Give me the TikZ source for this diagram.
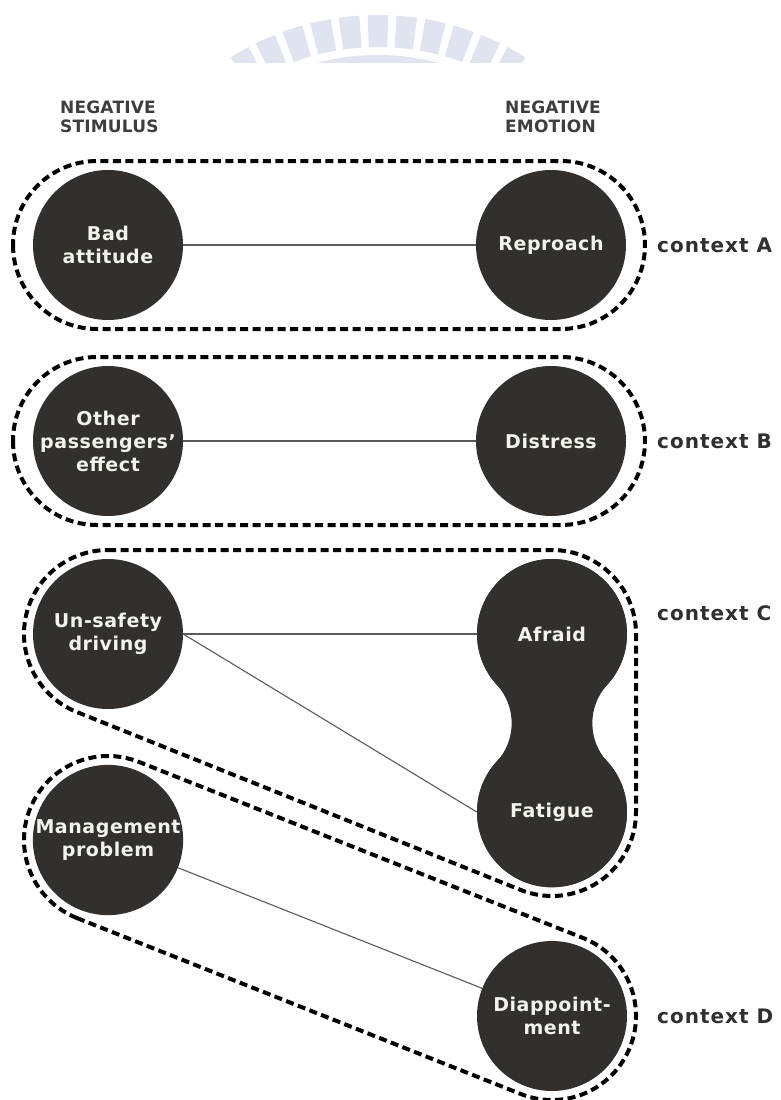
\documentclass[tikz,border=0pt]{standalone}
\usepackage{fontspec}
\setmainfont{DejaVu Sans}
\newfontfamily\ctxfont{DejaVu Sans}[LetterSpace=5]
\newfontfamily\nodefont{DejaVu Sans}[LetterSpace=3]
\newfontfamily\headfont{DejaVu Sans}[LetterSpace=1]
\usetikzlibrary{calc}

\definecolor{ink}{RGB}{51,47,44}
\definecolor{paper}{RGB}{244,242,238}
\definecolor{wire}{RGB}{90,90,90}
\definecolor{crest}{RGB}{224,228,241}
\definecolor{ctxgray}{RGB}{48,48,48}
\definecolor{headgray}{RGB}{62,62,62}

\tikzset{
  blob/.style={circle, fill=ink, minimum size=150pt, inner sep=0pt,
    text=paper, align=center,
    font=\nodefont\bfseries\fontsize{19}{23}\selectfont},
  dashline/.style={draw=black, line width=4pt, dash pattern=on 8pt off 4.5pt},
  wireline/.style={draw=wire, line width=1.1pt},
  ctxlabel/.style={anchor=west, text=ctxgray, inner sep=0pt,
    font=\ctxfont\bfseries\fontsize{20}{23}\selectfont},
  header/.style={anchor=north west, text=headgray, inner sep=0pt, align=left,
    font=\headfont\bfseries\fontsize{17}{19}\selectfont}
}

\begin{document}
\begin{tikzpicture}[x=1pt, y=-1pt]
\useasboundingbox (0,0) rectangle (780,1100);
\fill[white] (0,0) rectangle (780,1100);

% crest along the top edge
\coordinate (crestc) at (378,292);
\begin{scope}
  \clip (0,0) rectangle (780,62);
  \foreach \k in {-5,...,5} {
    \pgfmathsetmacro{\aa}{-90+6*\k-2.15}
    \pgfmathsetmacro{\ab}{-90+6*\k+2.15}
    \fill[crest] ($(crestc)+(\aa:245)$) -- ($(crestc)+(\aa:277)$)
      arc[start angle=\aa, end angle=\ab, radius=277]
      -- ($(crestc)+(\ab:245)$)
      arc[start angle=\ab, end angle=\aa, radius=245] -- cycle;
  }
  \fill[crest] ($(crestc)+(-120:200)$) -- ($(crestc)+(-120:237)$)
    arc[start angle=-120, end angle=-60, radius=237]
    -- ($(crestc)+(-60:200)$)
    arc[start angle=-60, end angle=-120, radius=200] -- cycle;
\end{scope}

% column headings
\node[header] (hstim) at (60,101) {NEGATIVE\\STIMULUS};
\node[header] (hemo) at (505,101) {NEGATIVE\\EMOTION};

% joined shape behind Afraid and Fatigue
\coordinate (afrc) at (552,634);
\coordinate (fatc) at (552,812);
\fill[ink] ($(afrc)+(42.5:75)$)
  arc[start angle=42.5, end angle=-222.5, radius=75]
  arc[start angle=-42.5, end angle=42.5, radius=57]
  arc[start angle=222.5, end angle=-42.5, radius=75]
  arc[start angle=137.5, end angle=222.5, radius=57] -- cycle;

% stimulus and emotion nodes
\node[blob] (bad) at (108,245) {Bad\\attitude};
\node[blob] (rep) at (551,245) {Reproach};
\node[blob] (oth) at (108,441) {Other\\passengers’\\effect};
\node[blob] (dis) at (551,441) {Distress};
\node[blob] (uns) at (108,634) {Un-safety\\driving};
\node[blob] (afr) at (afrc) {Afraid};
\node[blob] (fat) at (fatc) {Fatigue};
\node[blob] (mgm) at (108,840) {Management\\problem};
\node[blob] (dsp) at (552,1016) {Diappoint-\\ment};

% links
\draw[wireline] (bad) -- (rep);
\draw[wireline] (oth) -- (dis);
\draw[wireline] (uns.east) -- (afr.west);
\draw[wireline] (uns.east) -- (fat.west);
\draw[wireline] (mgm) -- (dsp);

% context outlines
\draw[dashline, rounded corners=84pt] (13,161) rectangle (645,329);
\draw[dashline, rounded corners=84pt] (13,357) rectangle (645,525);
\draw[dashline] ($(uns)+(0,-84)$) -- ($(afr)+(0,-84)$)
  arc[start angle=-90, end angle=0, radius=84]
  -- ($(fat)+(84,0)$)
  arc[start angle=0, end angle=111.96, radius=84]
  -- ($(uns)+(111.96:84)$)
  arc[start angle=111.96, end angle=270, radius=84] -- cycle;
\draw[dashline] ($(mgm)+(111.63:84)$)
  arc[start angle=111.63, end angle=291.63, radius=84]
  -- ($(dsp)+(-68.37:84)$)
  arc[start angle=-68.37, end angle=111.63, radius=84] -- cycle;

% context labels
\node[ctxlabel] (ca) at (657,245) {context A};
\node[ctxlabel] (cb) at (657,441) {context B};
\node[ctxlabel] (cc) at (657,613) {context C};
\node[ctxlabel] (cd) at (657,1016) {context D};
\end{tikzpicture}
\end{document}
